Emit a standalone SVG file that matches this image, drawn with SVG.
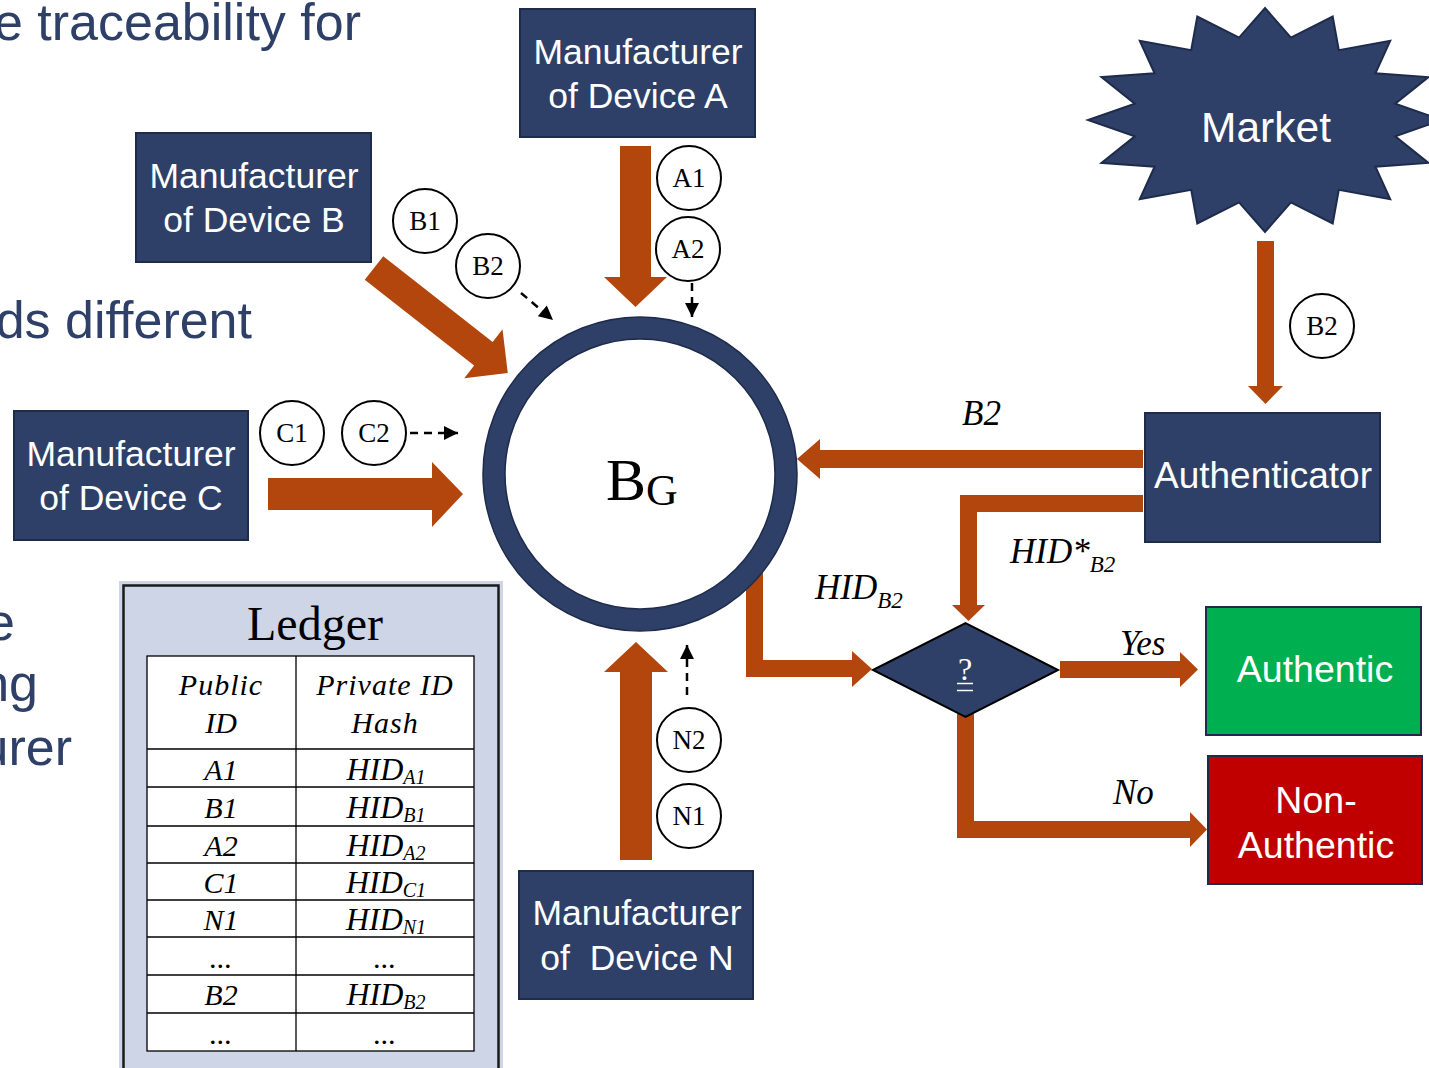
<svg xmlns="http://www.w3.org/2000/svg" width="1429" height="1068" viewBox="0 0 1429 1068">
  <defs>
    <style>
      .bgtext { font-family: "Liberation Sans", Arial, sans-serif; font-size: 52px; fill: #2E4068; text-anchor: end; }
      .box { fill: #2E4068; stroke: #1E2B4A; stroke-width: 2; }
      .wt { font-family: "Liberation Sans", Arial, sans-serif; fill: #FFFFFF; text-anchor: middle; }
      .mf { font-size: 35.5px; }
      .lb { font-size: 37.5px; }
      .ser { font-family: "Liberation Serif", "Times New Roman", serif; fill: #000000; }
      .it { font-style: italic; }
      .mid { text-anchor: middle; }
      .flow { fill: #B3460C; }
      .dash { stroke: #000000; stroke-width: 2.5; stroke-dasharray: 8 6; fill: none; marker-end: url(#tri); }
      .bub { fill: #FFFFFF; stroke: #000000; stroke-width: 2; }
      .bubt { font-family: "Liberation Serif", "Times New Roman", serif; font-size: 27px; text-anchor: middle; fill: #000000; }
      .grid { stroke: #000000; stroke-width: 1.3; fill: none; }
    </style>
    <marker id="tri" viewBox="0 0 10 10" refX="10" refY="5" markerUnits="userSpaceOnUse" markerWidth="15" markerHeight="14" orient="auto">
      <path d="M0,0 L10,5 L0,10 z" fill="#000000"/>
    </marker>
  </defs>

  <rect width="1429" height="1068" fill="#FFFFFF"/>

  <!-- slide body text behind the figure -->
  <g id="slide-text">
    <text class="bgtext" x="361" y="40">e traceability for</text>
    <text class="bgtext" x="252" y="338">ds different</text>
    <text class="bgtext" x="15" y="640">e</text>
    <text class="bgtext" x="38" y="701">ng</text>
    <text class="bgtext" x="72" y="765">urer</text>
  </g>

  <!-- ledger table -->
  <g id="ledger">
    <rect x="119" y="581" width="384" height="495" fill="#CDD5E6"/>
    <rect x="123.5" y="585.5" width="375" height="490" fill="none" stroke="#1A1A1A" stroke-width="2.5"/>
    <text class="ser mid" x="315" y="640" font-size="48">Ledger</text>
    <rect x="147" y="656" width="327" height="395" fill="#FFFFFF"/>
    <g class="grid">
      <rect x="147" y="656" width="327" height="395"/>
      <line x1="296" y1="656" x2="296" y2="1051"/>
      <line x1="147" y1="749" x2="474" y2="749"/>
      <line x1="147" y1="787" x2="474" y2="787"/>
      <line x1="147" y1="826" x2="474" y2="826"/>
      <line x1="147" y1="863" x2="474" y2="863"/>
      <line x1="147" y1="900" x2="474" y2="900"/>
      <line x1="147" y1="937" x2="474" y2="937"/>
      <line x1="147" y1="975" x2="474" y2="975"/>
      <line x1="147" y1="1013" x2="474" y2="1013"/>
    </g>
    <g class="ser it mid" font-size="30">
      <text x="221" y="695" letter-spacing="1">Public</text>
      <text x="221" y="733">ID</text>
      <text x="385" y="695" letter-spacing="1">Private ID</text>
      <text x="385" y="733" letter-spacing="1">Hash</text>
      <text x="221" y="780">A1</text>
      <text x="221" y="818">B1</text>
      <text x="221" y="856">A2</text>
      <text x="221" y="893">C1</text>
      <text x="221" y="930">N1</text>
      <text x="221" y="968">...</text>
      <text x="221" y="1005">B2</text>
      <text x="221" y="1044">...</text>
      <text x="386" y="780" font-size="32">HID<tspan font-size="20" dy="4">A1</tspan></text>
      <text x="386" y="818" font-size="32">HID<tspan font-size="20" dy="4">B1</tspan></text>
      <text x="386" y="856" font-size="32">HID<tspan font-size="20" dy="4">A2</tspan></text>
      <text x="386" y="893" font-size="32">HID<tspan font-size="20" dy="4">C1</tspan></text>
      <text x="386" y="930" font-size="32">HID<tspan font-size="20" dy="4">N1</tspan></text>
      <text x="385" y="968">...</text>
      <text x="386" y="1005" font-size="32">HID<tspan font-size="20" dy="4">B2</tspan></text>
      <text x="385" y="1044">...</text>
    </g>
  </g>

  <!-- connectors -->
  <g id="connectors">
    <polygon class="flow" points="620,146 651,146 651,277 667,277 635.5,307 604,277 620,277"/>
    <polygon class="flow" transform="translate(374,268) rotate(38.1)" points="0,-15 139,-15 139,-31 170,0 139,31 139,15 0,15"/>
    <polygon class="flow" points="268,478 432,478 432,462 463,494 432,527 432,510 268,510"/>
    <polygon class="flow" points="620,860 652,860 652,672 668,672 636,642 604,672 620,672"/>
    <polygon class="flow" points="1257,241 1274,241 1274,386 1283,386 1265.5,404 1248,386 1257,386"/>
    <polygon class="flow" points="1143,450 820,450 820,439 797,459 820,479 820,468 1143,468"/>
    <polygon class="flow" points="1143,495 960,495 960,605 952,605 968.5,621 985,605 977,605 977,512 1143,512"/>
    <polygon class="flow" points="746,570 763,570 763,660 852,660 852,651 872,669 852,687 852,677 746,677"/>
    <polygon class="flow" points="1060,661 1180,661 1180,652 1198,669.5 1180,687 1180,678 1060,678"/>
    <polygon class="flow" points="957,705 974,705 974,821 1190,821 1190,812 1207,829.5 1190,847 1190,838 957,838"/>

    <line class="dash" x1="521" y1="293" x2="553" y2="320"/>
    <line class="dash" x1="692" y1="283" x2="692" y2="317"/>
    <line class="dash" x1="410" y1="433" x2="458" y2="433"/>
    <line class="dash" x1="687" y1="695" x2="687" y2="645"/>

    <g class="ser it" font-size="35">
      <text x="962" y="425">B2</text>
      <text x="815" y="599">HID<tspan font-size="23" dy="9">B2</tspan></text>
      <text x="1010" y="563">HID*<tspan font-size="23" dy="9">B2</tspan></text>
      <text x="1120" y="655">Yes</text>
      <text x="1113" y="804">No</text>
    </g>
  </g>

  <!-- nodes -->
  <g id="mfr-a">
    <rect class="box" x="520" y="9" width="235" height="128"/>
    <text class="wt mf" x="638" y="64">Manufacturer</text>
    <text class="wt mf" x="638" y="108">of Device A</text>
  </g>
  <g id="mfr-b">
    <rect class="box" x="136" y="133" width="235" height="129"/>
    <text class="wt mf" x="254" y="188">Manufacturer</text>
    <text class="wt mf" x="254" y="232">of Device B</text>
  </g>
  <g id="mfr-c">
    <rect class="box" x="14" y="411" width="234" height="129"/>
    <text class="wt mf" x="131" y="466">Manufacturer</text>
    <text class="wt mf" x="131" y="510">of Device C</text>
  </g>
  <g id="mfr-n">
    <rect class="box" x="519" y="871" width="234" height="128"/>
    <text class="wt mf" x="637" y="925">Manufacturer</text>
    <text class="wt mf" x="637" y="970" style="white-space:pre">of  Device N</text>
  </g>
  <g id="market">
    <polygon class="box" points="1265,8 1290.9,37.6 1332.7,16.5 1338.8,50.2 1390.2,40.8 1375.4,73.3 1428.5,77.1 1395.2,103.6 1442,120 1395.2,136.4 1428.5,162.9 1375.4,166.7 1390.2,199.2 1338.8,189.8 1332.7,223.5 1290.9,202.4 1265,232 1239.1,202.4 1197.3,223.5 1191.2,189.8 1139.8,199.2 1154.6,166.7 1101.5,162.9 1134.8,136.4 1088,120 1134.8,103.6 1101.5,77.1 1154.6,73.3 1139.8,40.8 1191.2,50.2 1197.3,16.5 1239.1,37.6"/>
    <text class="wt" x="1266" y="142" font-size="42.5">Market</text>
  </g>
  <g id="authenticator">
    <rect class="box" x="1145" y="413" width="235" height="129"/>
    <text class="wt" x="1263" y="488" font-size="37">Authenticator</text>
  </g>
  <g id="authentic">
    <rect x="1206" y="607" width="215" height="128" fill="#00B050" stroke="#1E2B4A" stroke-width="2"/>
    <text class="wt lb" x="1315" y="682">Authentic</text>
  </g>
  <g id="non-authentic">
    <rect x="1208" y="756" width="214" height="128" fill="#C00000" stroke="#1E2B4A" stroke-width="2"/>
    <text class="wt lb" x="1316" y="813">Non-</text>
    <text class="wt lb" x="1316" y="858">Authentic</text>
  </g>
  <g id="blockchain">
    <circle cx="640" cy="474" r="146" fill="#FFFFFF" stroke="#2E4068" stroke-width="22"/>
    <circle cx="640" cy="474" r="157" fill="none" stroke="#1E2B4A" stroke-width="1.5"/>
    <circle cx="640" cy="474" r="135" fill="none" stroke="#1E2B4A" stroke-width="1.5"/>
    <text class="ser" x="606" y="500" font-size="60">B<tspan font-size="44" dy="5">G</tspan></text>
  </g>
  <g id="check">
    <polygon points="873,670 965.5,623 1058,670 965.5,717" fill="#2E4068" stroke="#000000" stroke-width="2"/>
    <text x="965" y="680" font-family="Liberation Serif, Times New Roman, serif" font-size="32" fill="#FFFFFF" text-anchor="middle">?</text>
    <!-- double bar under the question mark -->
    <path d="M957,683.5 H973 M957,690.5 H973" stroke="#FFFFFF" stroke-width="1.5" fill="none"/>
  </g>

  <!-- identifier bubbles -->
  <g id="bubbles">
    <g id="tag-a1"><circle class="bub" cx="689" cy="178" r="32"/><text class="bubt" x="689" y="187">A1</text></g>
    <g id="tag-a2"><circle class="bub" cx="688" cy="249" r="32"/><text class="bubt" x="688" y="258">A2</text></g>
    <g id="tag-b1"><circle class="bub" cx="425" cy="221" r="32"/><text class="bubt" x="425" y="230">B1</text></g>
    <g id="tag-b2"><circle class="bub" cx="488" cy="266" r="32"/><text class="bubt" x="488" y="275">B2</text></g>
    <g id="tag-c1"><circle class="bub" cx="292" cy="433" r="32"/><text class="bubt" x="292" y="442">C1</text></g>
    <g id="tag-c2"><circle class="bub" cx="374" cy="433" r="32"/><text class="bubt" x="374" y="442">C2</text></g>
    <g id="tag-n2"><circle class="bub" cx="689" cy="740" r="32"/><text class="bubt" x="689" y="749">N2</text></g>
    <g id="tag-n1"><circle class="bub" cx="689" cy="816" r="32"/><text class="bubt" x="689" y="825">N1</text></g>
    <g id="tag-m-b2"><circle class="bub" cx="1322" cy="326" r="32"/><text class="bubt" x="1322" y="335">B2</text></g>
  </g>
</svg>
